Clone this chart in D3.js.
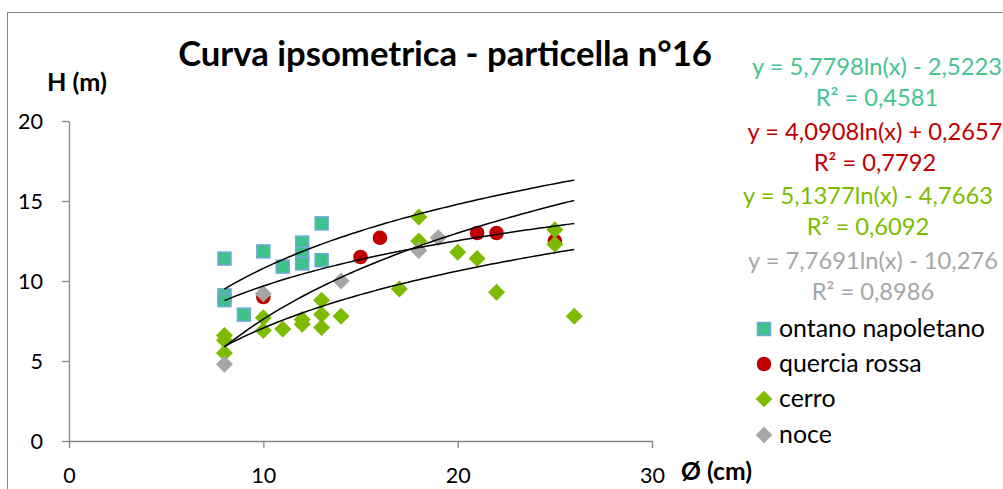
<!DOCTYPE html>
<html>
<head>
<meta charset="utf-8">
<script src="https://cdn.jsdelivr.net/npm/d3@7"></script>
<style>
  html, body { margin: 0; padding: 0; background: #fff; }
  svg { display: block; }
  text { font-family: Lato, "Open Sans", sans-serif; }
</style>
</head>
<body>
<svg id="chart" width="1003" height="489"></svg>
<script>
// ---------- DATA ----------
const seriesNames = ["ontano napoletano", "quercia rossa", "cerro", "noce"];

const ontanoD = [8, 8, 8, 9, 10, 11, 12, 12, 12, 13, 13];
const ontanoH = [11.4, 9.1, 8.8, 7.9, 11.85, 10.9, 12.4, 11.7, 11.1, 13.6, 11.3];

const querciaD = [10, 15, 16, 21, 22, 25];
const querciaH = [9.0, 11.5, 12.7, 13.0, 13.0, 12.5];

const cerroD = [8, 8, 8, 10, 10, 11, 12, 12, 13, 13, 13, 14, 17, 18, 18, 20, 21, 22, 25, 25, 26];
const cerroH = [6.6, 6.3, 5.5, 7.7, 6.9, 7.0, 7.6, 7.3, 8.8, 7.9, 7.1, 7.8, 9.5, 14.0, 12.5, 11.8, 11.4, 9.3, 13.2, 12.3, 7.8];

const noceD = [8, 10, 14, 18, 19];
const noceH = [4.8, 9.2, 10.0, 11.9, 12.7];

// logarithmic trendlines y = a ln(x) + b
const trendA = [5.7798, 4.0908, 5.1377, 7.7691];
const trendB = [-2.5223, 0.2657, -4.7663, -10.276];
const trendRange = [8, 26];
const eqLabels = [
  ["y = 5,7798ln(x) - 2,5223", "R² = 0,4581"],
  ["y = 4,0908ln(x) + 0,2657", "R² = 0,7792"],
  ["y = 5,1377ln(x) - 4,7663", "R² = 0,6092"],
  ["y = 7,7691ln(x) - 10,276", "R² = 0,8986"]
];

const xTicks = [0, 10, 20, 30];
const yTicks = [0, 5, 10, 15, 20];
const titleText = "Curva ipsometrica - particella n°16";
const yTitle = "H (m)";
const xTitle = "Ø (cm)";

// ---------- STYLE ----------
const colors = ["#3DC28B", "#C00000", "#7DBB00", "#A6A6A6"];
const textColors = ["#45C490", "#C00000", "#7DBB00", "#A6A6A6"];
const axisColor = "#868686";

const svg = d3.select("#chart");

function fitWidth(sel, target) {
  const node = sel.node();
  const fs = parseFloat(sel.attr("font-size"));
  const w = node.getComputedTextLength();
  sel.attr("font-size", fs * target / w);
  return fs * target / w;
}

// chart border
svg.append("rect")
  .attr("x", 7.5).attr("y", 12.5)
  .attr("width", 1100).attr("height", 600)
  .attr("fill", "#fff").attr("stroke", axisColor).attr("stroke-width", 1);

// scales
const x = d3.scaleLinear().domain([0, 30]).range([69, 652]);
const y = d3.scaleLinear().domain([0, 20]).range([441, 121]);

// axes
const gy = svg.append("g").attr("transform", "translate(69,0)")
  .call(d3.axisLeft(y).tickValues(yTicks).tickSizeInner(7).tickSizeOuter(0).tickPadding(19));
const gx = svg.append("g").attr("transform", "translate(0,441)")
  .call(d3.axisBottom(x).tickValues(xTicks).tickSizeInner(7).tickSizeOuter(0));
[gy, gx].forEach(g => {
  g.select(".domain").attr("stroke", axisColor).attr("stroke-width", 1.3);
  g.selectAll(".tick line").attr("stroke", axisColor).attr("stroke-width", 1.3);
  g.selectAll(".tick text").attr("fill", "#000").attr("font-family", "Lato, sans-serif");
});
// font fit for tick labels using "20"
let tickFs = 22;
gy.selectAll(".tick text").attr("font-size", 22);
const t20 = gy.selectAll(".tick text").filter(d => d === 20);
tickFs = fitWidth(t20, 25);
gy.selectAll(".tick text").attr("font-size", tickFs).attr("dy", "0.35em");
gx.selectAll(".tick text").attr("font-size", tickFs).attr("y", 42).attr("dy", null);

// title
const title = svg.append("text")
  .attr("x", 445).attr("y", 66).attr("text-anchor", "middle")
  .attr("font-weight", "bold").attr("font-size", 30).attr("fill", "#000")
  .text(titleText);
fitWidth(title, 534);

// axis titles
const yt = svg.append("text").attr("x", 47).attr("y", 91)
  .attr("font-weight", "bold").attr("font-size", 20).attr("fill", "#000").text(yTitle);
fitWidth(yt, 60);
const xt = svg.append("text").attr("x", 681).attr("y", 480)
  .attr("font-weight", "bold").attr("font-size", 20).attr("fill", "#000").text(xTitle);
fitWidth(xt, 71);

// markers
const plot = svg.append("g");
const sq = 13;
plot.selectAll("rect.ontano").data(d3.zip(ontanoD, ontanoH)).join("rect")
  .attr("class", "ontano")
  .attr("x", d => x(d[0]) - sq / 2).attr("y", d => y(d[1]) - sq / 2)
  .attr("width", sq).attr("height", sq)
  .attr("fill", colors[0]).attr("stroke", "#72A7DB").attr("stroke-width", 1.5);

plot.selectAll("circle.quercia").data(d3.zip(querciaD, querciaH)).join("circle")
  .attr("class", "quercia")
  .attr("cx", d => x(d[0])).attr("cy", d => y(d[1])).attr("r", 7.3)
  .attr("fill", colors[1]);

const diamond = (cx, cy, r) => `M${cx},${cy - r}L${cx + r},${cy}L${cx},${cy + r}L${cx - r},${cy}Z`;
plot.selectAll("path.cerro").data(d3.zip(cerroD, cerroH)).join("path")
  .attr("class", "cerro")
  .attr("d", d => diamond(x(d[0]), y(d[1]), 8.5))
  .attr("fill", colors[2]);

plot.selectAll("path.noce").data(d3.zip(noceD, noceH)).join("path")
  .attr("class", "noce")
  .attr("d", d => diamond(x(d[0]), y(d[1]), 8.5))
  .attr("fill", colors[3]);

// trendlines
const xs = d3.range(trendRange[0], trendRange[1] + 0.001, 0.25);
const line = d3.line().x(d => x(d[0])).y(d => y(d[1]));
trendA.forEach((a, i) => {
  const b = trendB[i];
  svg.append("path")
    .attr("d", line(xs.map(v => [v, a * Math.log(v) + b])))
    .attr("fill", "none").attr("stroke", "#000").attr("stroke-width", 1.5);
});

// equation labels
const eqCenters = [877, 875, 868, 873];
const eqBaselines = [[75, 106], [140, 171], [204, 235], [269, 300]];
const probe = svg.append("text").attr("font-size", 20).text(eqLabels[0][0]);
const probeW = probe.node().getComputedTextLength();
const eqFs = 20 * 250 / probeW;
probe.remove();
eqLabels.forEach((lines, i) => {
  lines.forEach((t, j) => {
    svg.append("text")
      .attr("x", eqCenters[i]).attr("y", eqBaselines[i][j])
      .attr("text-anchor", "middle").attr("font-size", eqFs)
      .attr("fill", textColors[i]).text(t);
  });
});

// legend
const legY = [329, 364, 399, 435];
const lg = svg.append("g");
const probe2 = svg.append("text").attr("font-size", 20).text(seriesNames[0]);
const legFs = 20 * 206 / probe2.node().getComputedTextLength();
probe2.remove();
seriesNames.forEach((n, i) => {
  const cy = legY[i], cx = 764;
  if (i === 0) {
    lg.append("rect").attr("x", cx - 6.5).attr("y", cy - 6.5).attr("width", 13).attr("height", 13)
      .attr("fill", colors[0]).attr("stroke", "#72A7DB").attr("stroke-width", 1.5);
  } else if (i === 1) {
    lg.append("circle").attr("cx", cx).attr("cy", cy).attr("r", 7.3).attr("fill", colors[1]);
  } else {
    lg.append("path").attr("d", diamond(cx, cy, 8.3)).attr("fill", colors[i]);
  }
  lg.append("text").attr("x", 779).attr("y", cy + 7.5)
    .attr("font-size", legFs).attr("fill", "#000").text(n);
});
</script>
</body>
</html>
